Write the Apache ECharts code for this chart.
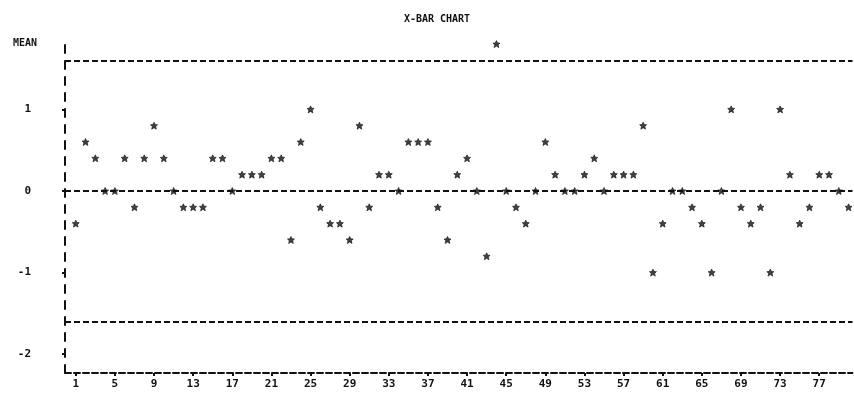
<!DOCTYPE html>
<html><head><meta charset="utf-8">
<script src="https://cdn.jsdelivr.net/npm/echarts@6/dist/echarts.min.js"></script>
<style>html,body{margin:0;padding:0;background:#fff}#c{width:854px;height:405px}</style>
</head><body><div id="c"></div>
<script>
// Sample numbers (subgroups) and their means
const samples = [1,2,3,4,5,6,7,8,9,10,11,12,13,14,15,16,17,18,19,20,
  21,22,23,24,25,26,27,28,29,30,31,32,33,34,35,36,37,38,39,40,
  41,42,43,44,45,46,47,48,49,50,51,52,53,54,55,56,57,58,59,60,
  61,62,63,64,65,66,67,68,69,70,71,72,73,74,75,76,77,78,79,80];
const means = [-0.4,0.6,0.4,0,0,0.4,-0.2,0.4,0.8,0.4,
  0,-0.2,-0.2,-0.2,0.4,0.4,0,0.2,0.2,0.2,
  0.4,0.4,-0.6,0.6,1.0,-0.2,-0.4,-0.4,-0.6,0.8,
  -0.2,0.2,0.2,0,0.6,0.6,0.6,-0.2,-0.6,0.2,
  0.4,0,-0.8,1.8,0,-0.2,-0.4,0,0.6,0.2,
  0,0,0.2,0.4,0,0.2,0.2,0.2,0.8,-1.0,
  -0.4,0,0,-0.2,-0.4,-1.0,0,1.0,-0.2,-0.4,
  -0.2,-1.0,1.0,0.2,-0.4,-0.2,0.2,0.2,0,-0.2];
const upperLimit = 1.6;
const centerLine = 0;
const lowerLimit = -1.6;
const xTickLabels = [1,5,9,13,17,21,25,29,33,37,41,45,49,53,57,61,65,69,73,77];
const yTickLabels = [-2,-1,0,1];

const font = '"DejaVu Sans Mono", "Liberation Mono", monospace';
const chart = echarts.init(document.getElementById('c'), null, {renderer: 'canvas'});
const star = 'path://M0,-5 L1.6,-1.8 5,-1.6 2.4,0.8 3.3,4.4 0,2.4 -3.3,4.4 -2.4,0.8 -5,-1.6 -1.6,-1.8Z';

chart.setOption({
  animation: false,
  backgroundColor: '#ffffff',
  title: {
    text: 'X-BAR CHART', left: 432, top: 9, textAlign: 'center',
    textStyle: {fontFamily: font, fontSize: 10, fontWeight: 'bold', color: '#111'}
  },
  graphic: [{
    type: 'text', left: 13, top: 38,
    style: {text: 'MEAN', font: 'bold 10px ' + font, fill: '#111'}
  }],
  grid: {left: 65, right: 1.5, top: 40, bottom: 32, containLabel: false},
  xAxis: {
    type: 'value', min: -0.1, max: 80.4,
    axisLine: {show: true, onZero: false, lineStyle: {color: '#111', width: 2, type: [6, 3]}},
    axisTick: {show: true, inside: false, length: 3, customValues: xTickLabels, lineStyle: {color: '#111', width: 2}},
    axisLabel: {show: true, customValues: xTickLabels, margin: 6, fontFamily: font, fontSize: 11, fontWeight: 'bold', color: '#111'},
    splitLine: {show: false}
  },
  yAxis: {
    type: 'value', min: -2.23, max: 1.85,
    axisLine: {show: true, onZero: false, lineStyle: {color: '#111', width: 2, type: [8, 8]}},
    axisTick: {show: true, length: 3, customValues: yTickLabels, lineStyle: {color: '#111', width: 2}},
    axisLabel: {show: true, customValues: yTickLabels, margin: 34, align: 'right', fontFamily: font, fontSize: 11, fontWeight: 'bold', color: '#111'},
    splitLine: {show: false}
  },
  series: [{
    type: 'scatter',
    data: samples.map((s, i) => [s, means[i]]),
    symbol: star, symbolSize: 7,
    itemStyle: {color: '#111', borderColor: '#111', borderWidth: 0.8},
    z: 5,
    markLine: {
      silent: true, symbol: 'none', label: {show: false},
      lineStyle: {color: '#111', width: 2, type: [6, 3]},
      data: [{yAxis: upperLimit}, {yAxis: centerLine}, {yAxis: lowerLimit}]
    }
  }]
});
</script></body></html>
